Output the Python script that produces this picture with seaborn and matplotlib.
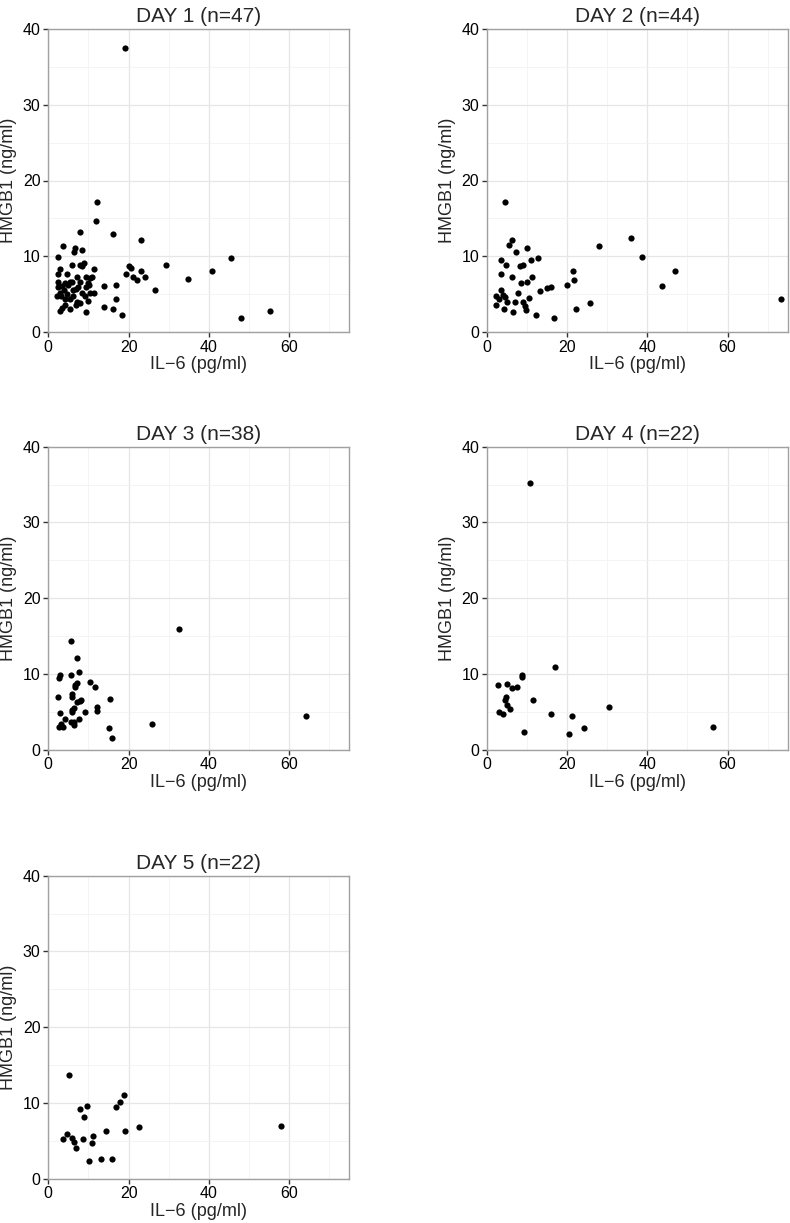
import seaborn as sns
import pandas as pd
from matplotlib import pyplot as plt

# IL-6 (x) and HMGB1 (y) readings per day, estimated from the reference figure
day1_il6 = [19.1, 12.2, 11.9, 16.2, 7.9, 23.1, 3.7, 6.7, 6.5, 8.5, 2.3, 45.6, 6.0, 7.8, 8.8, 8.5,
            29.3, 20.1, 20.6, 40.7, 23.0, 11.5, 2.9, 2.5, 4.7, 19.3, 21.2, 24.1, 22.0, 34.9, 7.1, 9.4,
            10.4, 11.0, 8.0, 9.8, 5.9, 5.4, 4.2, 3.4, 2.5, 5.0, 9.4, 10.1, 14.0, 16.9, 26.6, 6.9,
            4.0, 2.9, 2.2, 3.2, 4.7, 6.2, 8.3, 10.4, 11.5, 9.1, 16.9, 4.2, 5.4, 7.2, 10.0, 7.9,
            4.2, 6.9, 2.9, 5.4, 9.4, 13.9, 16.2, 18.4, 48.0, 55.3, 3.3, 6.2, 7.5, 2.3]
day1_hmgb1 = [37.5, 17.1, 14.7, 13.0, 13.2, 12.1, 11.4, 11.1, 10.5, 10.8, 9.9, 9.8, 8.9, 8.8, 9.1, 8.7,
              8.9, 8.7, 8.5, 8.1, 8.0, 8.3, 8.3, 7.7, 7.7, 7.6, 7.3, 7.2, 6.8, 7.0, 7.3, 7.2,
              7.1, 7.3, 6.6, 6.5, 6.6, 6.6, 6.5, 6.1, 6.0, 6.2, 5.9, 6.2, 6.1, 6.2, 5.5, 5.7,
              5.6, 5.1, 4.8, 4.7, 5.0, 4.8, 5.1, 5.1, 5.1, 4.8, 4.4, 4.3, 4.3, 4.0, 4.1, 3.8,
              3.6, 3.6, 2.8, 3.0, 2.7, 3.3, 3.0, 2.3, 1.9, 2.8, 3.2, 5.5, 6.0, 6.6]

day2_il6 = [4.5, 6.3, 5.5, 7.4, 10.0, 36.0, 27.9, 38.7, 3.6, 4.7, 12.7, 11.0, 8.4, 9.1, 21.4, 46.9,
            3.5, 6.2, 11.4, 21.7, 8.5, 10.0, 20.0, 15.9, 15.1, 43.6, 3.5, 13.4, 7.7, 2.3, 4.1, 4.5,
            3.1, 10.6, 73.3, 5.0, 7.1, 9.1, 2.2, 25.8, 9.5, 4.3, 9.9, 22.2, 6.5, 12.4, 16.8]
day2_hmgb1 = [17.1, 12.1, 11.5, 10.6, 11.1, 12.4, 11.3, 9.9, 9.5, 8.9, 9.8, 9.5, 8.7, 8.8, 8.0, 8.0,
              7.7, 7.3, 7.3, 6.8, 6.5, 6.6, 6.2, 6.0, 5.8, 6.1, 5.6, 5.4, 5.2, 4.8, 4.9, 4.6,
              4.4, 4.5, 4.4, 3.9, 4.0, 4.0, 3.6, 3.8, 3.4, 3.0, 2.9, 3.0, 2.6, 2.3, 1.8]

day3_il6 = [32.5, 5.7, 7.1, 7.6, 3.0, 2.7, 5.6, 10.5, 7.2, 6.7, 11.6, 6.6, 6.0, 2.5, 5.9, 8.1,
            15.4, 7.1, 7.9, 6.3, 12.2, 12.2, 9.2, 5.8, 2.9, 6.0, 64.3, 4.2, 7.6, 5.7, 6.3, 25.8,
            3.2, 2.7, 3.6, 15.2, 15.9, 6.3]
day3_hmgb1 = [15.9, 14.3, 12.1, 10.2, 9.8, 9.4, 9.8, 9.0, 8.8, 8.6, 8.3, 8.3, 7.4, 7.0, 7.0, 6.6,
              6.7, 6.3, 6.4, 5.5, 5.6, 5.1, 5.0, 5.0, 4.8, 5.3, 4.4, 4.0, 4.1, 3.7, 3.3, 3.4,
              3.4, 3.0, 3.0, 2.8, 1.6, 3.7]

day4_il6 = [10.8, 17.0, 8.9, 8.9, 2.9, 5.0, 6.2, 7.6, 4.7, 4.6, 11.6, 5.1, 5.8, 30.5, 3.1, 4.1,
            16.0, 21.3, 9.2, 20.6, 24.3, 56.5]
day4_hmgb1 = [35.2, 10.9, 9.8, 9.6, 8.5, 8.7, 8.1, 8.3, 7.0, 6.5, 6.5, 5.9, 5.4, 5.6, 5.0, 4.7,
              4.7, 4.4, 2.3, 2.1, 2.8, 3.0]

day5_il6 = [5.1, 18.9, 17.9, 16.8, 9.7, 7.8, 9.0, 22.7, 58.0, 14.4, 19.1, 4.7, 11.2, 6.0, 3.6, 8.6,
            6.3, 10.8, 6.8, 10.2, 13.2, 15.9]
day5_hmgb1 = [13.7, 11.1, 10.1, 9.4, 9.6, 9.2, 8.1, 6.8, 7.0, 6.3, 6.3, 5.9, 5.6, 5.4, 5.3, 5.3,
              4.8, 4.7, 4.0, 2.4, 2.6, 2.6]

titles = ["DAY 1 (n=47)", "DAY 2 (n=44)", "DAY 3 (n=38)", "DAY 4 (n=22)", "DAY 5 (n=22)"]
days = [(day1_il6, day1_hmgb1), (day2_il6, day2_hmgb1), (day3_il6, day3_hmgb1),
        (day4_il6, day4_hmgb1), (day5_il6, day5_hmgb1)]

sns.set_theme(style="white")
plt.rcParams['font.family'] = ['Liberation Sans', 'DejaVu Sans']

W, H = 790, 1223
fig = plt.figure(figsize=(W / 100, H / 100), dpi=100)

# panel boxes in pixels: (left, top)
lefts = [48.3, 486.7]
tops = [29, 446.7, 875.7]
pw, ph = 301, 303

for i, (title, (xs, ys)) in enumerate(zip(titles, days)):
    row, col = divmod(i, 2)
    l, t = lefts[col], tops[row]
    ax = fig.add_axes([l / W, 1 - (t + ph) / H, pw / W, ph / H])
    df = pd.DataFrame({"il6": xs, "hmgb1": ys})
    sns.scatterplot(data=df, x="il6", y="hmgb1", ax=ax, color="black", s=20,
                    linewidth=0, zorder=3)
    ax.set_xlim(0, 75)
    ax.set_ylim(0, 40)
    ax.set_xticks([0, 20, 40, 60])
    ax.set_xticks([10, 30, 50, 70], minor=True)
    ax.set_yticks([0, 10, 20, 30, 40])
    ax.set_yticks([5, 15, 25, 35], minor=True)
    ax.grid(which="major", color="#e6e6e6", linewidth=0.9)
    ax.grid(which="minor", color="#f2f2f2", linewidth=0.6)
    ax.set_axisbelow(True)
    for sp in ax.spines.values():
        sp.set_color("#a0a0a0")
        sp.set_linewidth(1.0)
    ax.tick_params(which="major", direction="out", length=3.5, width=1.0, color="#333333",
                   labelsize=11.5, labelcolor="black", pad=2, bottom=True, left=True)
    ax.tick_params(which="minor", length=0)
    ax.set_title(title, fontsize=15, pad=5)
    ax.set_xlabel("IL\u22126 (pg/ml)", fontsize=13, labelpad=1)
    ax.set_ylabel("HMGB1 (ng/ml)", fontsize=13, labelpad=4)

fig.savefig("out.png", dpi=100)
